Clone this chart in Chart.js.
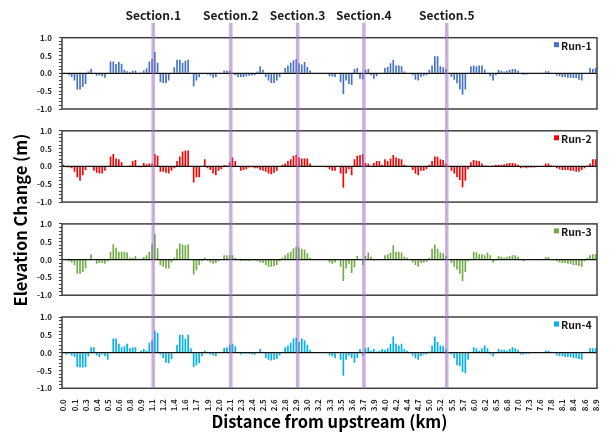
<!DOCTYPE html>
<html>
<head>
<meta charset="utf-8">
<script src="https://cdn.jsdelivr.net/npm/chart.js@4"></script>
<style>
  html, body { margin: 0; padding: 0; background: #fff; }
  #wrap { width: 609px; height: 434px; }
</style>
</head>
<body>
<div id="wrap"><canvas id="elev" width="609" height="434"></canvas></div>
<script>
// x tick labels (one every 4 stations)
var tickLabels = ['0.0','0.1','0.3','0.4','0.5','0.6','0.8','0.9','1.1','1.2','1.4','1.6','1.7','1.9','2.0','2.1',
  '2.3','2.4','2.5','2.6','2.8','2.9','3.0','3.2','3.3','3.5','3.6','3.7','3.9','4.0','4.2','4.4','4.7','5.0',
  '5.2','5.5','5.7','6.0','6.2','6.5','6.8','7.0','7.3','7.6','7.8','8.1','8.4','8.6','8.9'];

var sectionNames = ['Section.1', 'Section.2', 'Section.3', 'Section.4', 'Section.5'];
var sectionAt = [32.4, 60.4, 84.5, 108.4, 138.3]; // station index of each section line

var runNames = ['Run-1', 'Run-2', 'Run-3', 'Run-4'];
var runColors = ['#4472C4', '#FF0000', '#70AD47', '#00B0F0'];

// elevation change (m) per station
var run1 = [0,-0.02,-0.05,-0.1,-0.2,-0.45,-0.45,-0.38,-0.3,0.05,
  0.13,0,-0.07,-0.05,-0.08,-0.12,0,0.33,0.33,0.26,
  0.32,0.27,0.1,0.06,0.04,0.07,0.08,0,0.01,0.08,
  0.14,0.33,0.4,0.6,0.3,-0.25,-0.27,-0.28,-0.2,0,
  0.17,0.38,0.38,0.3,0.35,0.38,0,-0.36,-0.2,-0.1,
  -0.02,0,-0.03,-0.06,-0.12,-0.1,0,0.02,0.08,0.07,
  0.07,0,-0.05,-0.1,-0.1,-0.1,-0.08,-0.07,-0.06,-0.05,
  0.05,0.2,0.1,-0.1,-0.2,-0.27,-0.27,-0.2,-0.1,0,
  0.15,0.22,0.3,0.37,0.4,0.28,0.25,0.32,0.18,0.08,
  0,0,0,0,0,-0.02,-0.08,-0.08,-0.1,0,
  -0.25,-0.58,-0.2,-0.3,-0.33,0.12,0.15,-0.15,-0.17,0.1,
  0.12,-0.05,-0.15,-0.08,0,0,0.15,0.18,0.28,0.38,
  0.22,0.22,0.2,0.05,0.02,0,-0.05,-0.18,-0.2,-0.1,
  -0.07,-0.05,0.1,0.22,0.48,0.48,0.2,0.17,0.12,0,
  -0.1,-0.18,-0.28,-0.45,-0.6,-0.45,0,0.2,0.22,0.2,
  0.22,0.22,0.1,0,-0.08,-0.2,-0.05,0.1,0.07,0.05,
  0.07,0.1,0.12,0.12,0.08,0,-0.04,-0.03,0,0,
  0,0,0,0,0.06,0.06,0,0,-0.06,-0.08,
  -0.1,-0.1,-0.12,-0.12,-0.13,-0.13,-0.18,-0.2,0,0,
  0.15,0.12,0.15];

var run2 = [0.05,-0.02,-0.03,-0.05,-0.15,-0.3,-0.4,-0.25,-0.1,0,
  0,-0.12,-0.18,-0.2,-0.2,-0.12,0,0.28,0.35,0.22,
  0.2,0.12,0,0,0.03,0.15,0.18,-0.02,-0.02,0.1,
  0.06,0.08,0.08,0.35,0.3,-0.15,-0.15,-0.18,-0.2,-0.12,
  -0.05,0.15,0.28,0.42,0.45,0.45,0,-0.45,-0.3,-0.3,
  0,0.2,-0.05,-0.1,-0.2,-0.25,-0.12,-0.08,0.04,0.03,
  0.12,0.25,0.15,0,-0.12,-0.1,-0.08,-0.03,-0.02,-0.05,
  -0.05,-0.1,-0.12,-0.15,-0.2,-0.22,-0.18,-0.12,0,0.05,
  0.08,0.15,0.2,0.3,0.32,0.25,0.22,0.22,0.22,0.08,
  0,0,0,0,0,-0.02,-0.08,-0.12,-0.12,0,
  -0.2,-0.6,-0.2,-0.08,-0.25,0.2,0.3,0.32,0.35,0.1,
  0.08,0.02,0.1,0.15,0.15,0.05,0.2,0.15,0.22,0.32,
  0.25,0.22,0.2,0.05,0.02,0,-0.1,-0.2,-0.25,-0.12,
  -0.12,-0.08,0.05,0.15,0.28,0.27,0.2,0.18,0.08,0,
  -0.12,-0.2,-0.3,-0.38,-0.58,-0.4,-0.08,0.12,0.18,0.17,
  0.15,0.08,0.03,0.02,0,0.02,0.05,0.05,0.05,0.06,
  0.08,0.1,0.1,0.08,0.05,-0.05,-0.03,-0.05,-0.03,-0.03,
  -0.03,0,0,0,0.08,0.08,0.03,0,-0.05,-0.08,
  -0.1,-0.1,-0.1,-0.12,-0.12,-0.15,-0.15,-0.1,-0.05,0.02,
  0.08,0.2,0.2];

var run3 = [0,-0.02,-0.05,-0.08,-0.15,-0.4,-0.4,-0.35,-0.25,0,
  0.15,0,-0.12,-0.1,-0.1,-0.12,-0.05,0.22,0.43,0.33,
  0.22,0.22,0.22,0.2,0.05,0.05,0.1,0,0.02,0.07,
  0.12,0.22,0.43,0.72,0.32,-0.15,-0.2,-0.25,-0.25,-0.08,
  0.05,0.3,0.45,0.42,0.4,0.42,0,-0.42,-0.3,-0.15,
  -0.05,0.05,-0.03,-0.08,-0.12,-0.1,-0.05,0,0.12,0.12,
  0.12,0.12,0.05,-0.02,-0.04,-0.04,-0.04,-0.04,-0.03,-0.03,
  -0.05,-0.08,-0.1,-0.15,-0.2,-0.2,-0.18,-0.15,-0.05,0.05,
  0.12,0.18,0.22,0.32,0.36,0.34,0.3,0.28,0.18,0.05,
  0,0,0,0,0,0,-0.08,-0.12,-0.08,0,
  -0.2,-0.6,-0.25,-0.12,-0.38,-0.22,0.1,0,-0.15,0.1,
  0.2,0.08,-0.03,0,0,0,0.12,0.15,0.2,0.4,
  0.22,0.22,0.2,0.08,0.05,0,-0.08,-0.15,-0.2,-0.1,
  -0.08,-0.06,0.05,0.3,0.42,0.3,0.2,0.18,0.1,0,
  -0.1,-0.2,-0.28,-0.4,-0.6,-0.35,-0.05,0.02,0.22,0.2,
  0.15,0.15,0.12,0.2,0.12,-0.08,-0.03,0.1,0.07,0.05,
  0.07,0.1,0.12,0.12,0.08,0,-0.05,0,0,0,
  0,0,0,0,0.07,0.07,0,0,-0.05,-0.08,
  -0.1,-0.1,-0.12,-0.12,-0.15,-0.15,-0.18,-0.2,-0.05,0.05,
  0.12,0.15,0.15];

var run4 = [0,-0.05,-0.03,-0.08,-0.12,-0.4,-0.42,-0.42,-0.4,-0.1,
  0.15,0.15,-0.08,-0.12,-0.05,-0.1,-0.2,0.02,0.4,0.4,
  0.25,0.15,0.18,0.25,0.12,0.15,0.15,0,0.05,0.1,
  0.05,0.28,0.35,0.62,0.55,-0.05,-0.15,-0.28,-0.3,-0.18,
  0.02,0.22,0.5,0.5,0.38,0.5,0.12,-0.4,-0.35,-0.3,
  -0.1,0.05,0,-0.05,-0.08,-0.1,-0.02,0.02,0.14,0.15,
  0.22,0.25,0.18,0,-0.05,-0.03,-0.03,-0.03,-0.05,-0.06,
  0,0.1,0,-0.15,-0.2,-0.22,-0.2,-0.18,-0.08,0,
  0.15,0.2,0.28,0.4,0.42,0.3,0.4,0.35,0.22,0.08,
  0,0,0,0,0,0.02,-0.08,-0.1,-0.15,0,
  -0.2,-0.65,-0.2,-0.08,-0.15,-0.28,-0.15,0.1,-0.08,0.12,
  0.15,0.05,0.1,0.03,0.05,0.1,0.08,0.12,0.25,0.45,
  0.25,0.2,0.25,0.1,0.05,0,-0.08,-0.15,-0.2,-0.1,
  -0.05,-0.05,0.03,0.2,0.45,0.3,0.2,0.18,0.1,0,
  -0.05,-0.15,-0.35,-0.38,-0.55,-0.58,-0.2,0,0.15,0.12,
  0.05,0.12,0.2,0.12,-0.05,-0.1,-0.03,0.1,0.08,0.08,
  0.05,0.1,0.15,0.12,0.08,-0.05,-0.05,-0.03,-0.03,0,
  0,0,0,0,0.06,0.06,0,0,-0.08,-0.1,
  -0.1,-0.12,-0.12,-0.12,-0.15,-0.15,-0.18,-0.2,0,0,
  0.12,0.12,0.12];

var runs = [run1, run2, run3, run4];

// station labels, only every 4th one is shown
var categories = [];
for (var i = 0; i < run1.length; i++) {
  categories.push(i % 4 === 0 ? tickLabels[i / 4] : '');
}

Chart.defaults.font.family = "'Noto Sans CJK KR', 'Noto Sans', sans-serif";
Chart.defaults.color = '#262626';

// one y axis per panel, stacked on the left with blank gaps between them
function panelAxis(k) {
  return {
    type: 'linear', position: 'left', stack: 'panels', stackWeight: 71.3, weight: 7 - 2 * k,
    min: -1, max: 1,
    border: { display: false },
    grid: { drawOnChartArea: false, tickLength: 3, color: '#404040' },
    ticks: {
      stepSize: 0.1, autoSkip: false, padding: 7,
      font: { size: 8, weight: 'bold' },
      callback: function (v) {
        var r = Math.round(v * 10);
        return r % 5 === 0 ? (r / 10).toFixed(1) : '';
      }
    },
    afterFit: function (s) { s.width = 32; }
  };
}
function gapAxis(k) {
  return { type: 'linear', position: 'left', stack: 'panels', stackWeight: 21.8, weight: 6 - 2 * k,
    display: false, min: 0, max: 1 };
}

var scales = {
  x: {
    type: 'category', position: 'bottom',
    grid: { display: false }, border: { display: false },
    ticks: { autoSkip: false, minRotation: 90, maxRotation: 90, padding: 3, font: { size: 8, weight: 'bold' } },
    title: { display: true, text: 'Distance from upstream (km)', color: '#000',
      font: { size: 16.5, weight: 'bold' }, padding: { top: 0, bottom: 2 } },
    afterFit: function (s) { s.height = 45.7; }
  },
  yTitlePad: { type: 'linear', position: 'left', stack: 'title', stackWeight: 14, weight: 12,
    display: false, min: 0, max: 1, afterFit: function (s) { s.width = 30; } },
  yTitle: {
    type: 'linear', position: 'left', stack: 'title', stackWeight: 336.6, weight: 11, min: 0, max: 1,
    border: { display: false }, grid: { display: false }, ticks: { display: false },
    title: { display: true, text: 'Elevation Change (m)', color: '#000',
      font: { size: 16.5, weight: 'bold' }, padding: { top: 11, bottom: 0 } },
    afterFit: function (s) { s.width = 30; }
  }
};
for (var k = 0; k < 4; k++) {
  scales['y' + (k + 1)] = panelAxis(k);
  if (k < 3) scales['yGap' + (k + 1)] = gapAxis(k);
}

// panel frames, zero lines, run labels and the section lines
var overlay = {
  id: 'overlay',
  afterDatasetsDraw: function (chart) {
    var ctx = chart.ctx;
    var x = chart.scales.x;
    ctx.save();
    runNames.forEach(function (name, k) {
      var y = chart.scales['y' + (k + 1)];
      var z = y.getPixelForValue(0);
      ctx.strokeStyle = '#111';
      ctx.lineWidth = 1.3;
      ctx.beginPath();
      ctx.moveTo(x.left, z);
      ctx.lineTo(x.right, z);
      ctx.stroke();
      ctx.strokeStyle = '#404040';
      ctx.lineWidth = 1.5;
      ctx.strokeRect(x.left, y.top, x.right - x.left, y.bottom - y.top);
      // legend
      ctx.fillStyle = runColors[k];
      ctx.fillRect(x.right - 43, y.top + 4.5, 5, 5);
      ctx.fillStyle = '#1a1a1a';
      ctx.font = "bold 10.5px 'Noto Sans CJK KR', 'Noto Sans', sans-serif";
      ctx.textAlign = 'left';
      ctx.textBaseline = 'middle';
      ctx.fillText(name, x.right - 36, y.top + 8.5);
    });

    var top = chart.scales.y1.top - 15;
    var bottom = chart.scales.y4.bottom;
    sectionAt.forEach(function (pos, i) {
      var px = x.getPixelForValue(pos);
      ctx.fillStyle = 'rgba(160, 110, 200, 0.55)';
      ctx.fillRect(px - 1.75, top, 3.5, bottom - top);
      ctx.fillStyle = '#1a1a1a';
      ctx.font = "bold 12px 'Noto Sans CJK KR', 'Noto Sans', sans-serif";
      ctx.textAlign = 'center';
      ctx.textBaseline = 'middle';
      ctx.fillText(sectionNames[i], px, chart.scales.y1.top - 22);
    });
    ctx.restore();
  }
};

new Chart(document.getElementById('elev'), {
  type: 'bar',
  data: {
    labels: categories,
    datasets: runs.map(function (vals, k) {
      return {
        label: runNames[k], data: vals, yAxisID: 'y' + (k + 1),
        backgroundColor: runColors[k], grouped: false,
        barPercentage: 0.6, categoryPercentage: 1
      };
    })
  },
  options: {
    responsive: false, animation: false, devicePixelRatio: 1,
    layout: { padding: { top: 37.7, right: 12, left: 0, bottom: 0 } },
    plugins: { legend: { display: false }, tooltip: { enabled: false } },
    scales: scales
  },
  plugins: [overlay]
});
</script>
</body>
</html>
